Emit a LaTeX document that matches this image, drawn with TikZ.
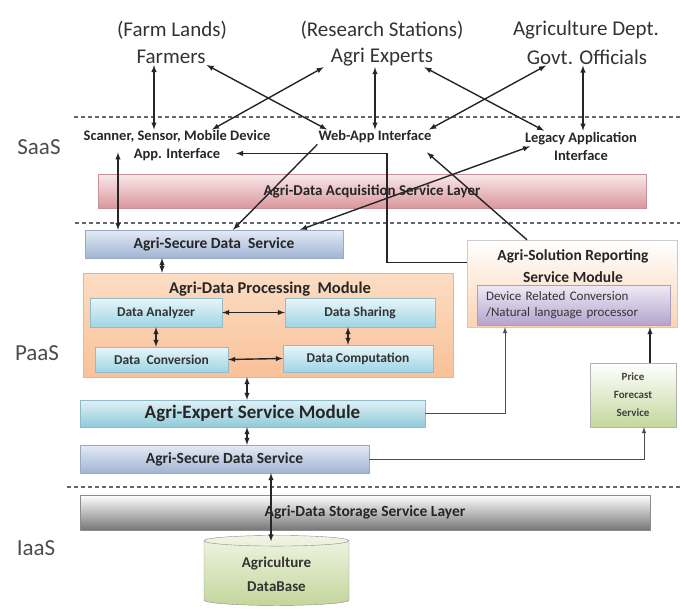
\documentclass[tikz,border=0pt]{standalone}
\usepackage{fontspec}
\setmainfont{Carlito}
\usetikzlibrary{shapes.geometric}
\definecolor{acqtop}{HTML}{F9E9E9}\definecolor{acqbot}{HTML}{D9979D}
\definecolor{sectop}{HTML}{E3EBF5}\definecolor{secbot}{HTML}{A1B4D2}
\definecolor{modtop}{HTML}{FCDDC4}\definecolor{modbot}{HTML}{F9C198}\definecolor{modedge}{HTML}{F5B07F}
\definecolor{celltop}{HTML}{E8F6FA}\definecolor{cellbot}{HTML}{9FD4E5}
\definecolor{exptop}{HTML}{E2F1F5}\definecolor{expbot}{HTML}{90CAD9}
\definecolor{solbot}{HTML}{FBD4B4}
\definecolor{devtop}{HTML}{EFEAF6}\definecolor{devbot}{HTML}{B5A4CC}
\definecolor{prbot}{HTML}{C4D79E}
\definecolor{storbot}{HTML}{777777}
\definecolor{dbtop}{HTML}{F0F5E4}\definecolor{dbbot}{HTML}{C3D69B}
\begin{document}
\begin{tikzpicture}[x=1pt,y=-1pt,>=latex,
  user/.style={inner sep=1pt,font=\fontsize{21}{25}\selectfont,text=black!80},
  tier/.style={inner sep=0pt,font=\fontsize{23}{27}\selectfont,text=black!70},
  iface/.style={inner sep=1pt,align=center,font=\fontsize{14.5}{18}\selectfont\bfseries,text=black!85},
  boxlbl/.style={inner sep=0pt,font=\fontsize{15.5}{18}\selectfont\bfseries,text=black!85},
  secbox/.style={boxlbl,draw=secbot!80!gray,top color=sectop,bottom color=secbot,minimum height=28pt},
  cell/.style={inner sep=0pt,draw=cellbot!70!gray,top color=celltop,bottom color=cellbot,
    font=\fontsize{13.5}{16}\selectfont\bfseries,text=black!80},
  conn/.style={line width=1.4pt,black!85},
  thinconn/.style={line width=1pt,black!70},
  sep/.style={line width=1.2pt,black!60,dash pattern=on 4pt off 3pt}]
\useasboundingbox (0,0) rectangle (680,610);
% users:
\node[user] (farmland) at (172,30) {(Farm Lands)};
\node[user] (farmers) at (171,57) {Farmers};
\node[user] (research) at (382,30) {(Research Stations)};
\node[user] (experts) at (382,57) {Agri Experts};
\node[user] (dept) at (586,30) {Agriculture Dept.};
\node[user] (govt) at (587,57) {Govt. Officials};
% tiers:
\node[tier] (saas) at (39,147) {SaaS};
\node[tier] (paas) at (37,353) {PaaS};
\node[tier] (iaas) at (36,548) {IaaS};
\draw[sep] (74,117) -- (680,117);
\draw[sep] (75,223) -- (680,223);
\draw[sep] (67,487) -- (680,487);
% SaaS:
\node[iface] (scanner) at (177,146) {Scanner, Sensor, Mobile Device\\App. Interface};
\node[iface] (webapp) at (375,137) {Web-App Interface};
\node[iface] (legacy) at (581,146) {Legacy Application\\Interface};
\node[boxlbl,font=\fontsize{15}{18}\selectfont\bfseries,draw=acqbot!80!gray,top color=acqtop,bottom color=acqbot,
  minimum width=548pt,minimum height=34pt] (acq) at (372,191) {Agri-Data Acquisition Service Layer};
% PaaS:
\node[secbox,minimum width=258pt] (secA) at (214,244) {Agri-Secure Data~~Service};
\node[draw=modedge,top color=modtop,bottom color=modbot,minimum width=370pt,minimum height=104pt] (module) at (268,325) {};
\node[boxlbl,font=\fontsize{16.5}{18}\selectfont\bfseries] (modname) at (270,289) {Agri-Data Processing~~Module};
\node[cell,minimum width=132pt,minimum height=29pt] (analyzer) at (156,312.5) {Data Analyzer};
\node[cell,minimum width=150pt,minimum height=29pt] (sharing) at (360,312.5) {Data Sharing};
\node[cell,minimum width=133pt,minimum height=25pt] (conversion) at (161.5,359.5) {Data~~Conversion};
\node[cell,minimum width=150pt,minimum height=27pt] (computation) at (358,358.5) {Data Computation};
\node[boxlbl,font=\fontsize{19}{22}\selectfont\bfseries,draw=expbot!80!gray,top color=exptop,bottom color=expbot,
  minimum width=345pt,minimum height=27pt] (expert) at (252.5,413.5) {Agri-Expert Service Module};
\node[secbox,minimum width=289pt] (secB) at (224.5,459) {Agri-Secure Data Service};
\node[draw=black!20,top color=white,bottom color=solbot,minimum width=210pt,minimum height=87pt] (solution) at (572,283.5) {};
\node[boxlbl,align=center,font=\fontsize{15.5}{22}\selectfont\bfseries] (solname) at (573,266) {Agri-Solution Reporting\\Service Module};
\node[draw=devbot!80!gray,top color=devtop,bottom color=devbot,text width=175pt,inner xsep=9pt,inner ysep=0pt,
  minimum height=40pt,align=left,font=\fontsize{13}{16}\selectfont,text=black!80] (device) at (573.5,305)
  {Device Related Conversion\\/Natural language processor};
\node[draw=black!30,top color=white,bottom color=prbot,minimum width=86pt,minimum height=64pt,align=center,
  font=\fontsize{11}{18}\selectfont\bfseries,text=black!75] (price) at (633,395) {Price\\Forecast\\Service};
% IaaS:
\node[boxlbl,draw=black!45,top color=white,bottom color=storbot,minimum width=570pt,minimum height=35pt] (storage)
  at (365,512.5) {Agri-Data Storage Service Layer};
\node[cylinder,shape border rotate=90,aspect=0.14,draw=black!45,top color=dbtop,bottom color=dbbot,
  minimum width=145pt,minimum height=70pt,align=center,font=\fontsize{15}{24}\selectfont\bfseries,text=black!80]
  (db) at (276.5,574) {Agriculture\\DataBase};
% connectors:
\draw[<->,conn] ([xshift=-17pt]farmers.south) -- ([xshift=-23pt]scanner.north);
\draw[<->,conn] (farmers.south east) -- ([xshift=-48pt]webapp.north);
\draw[<->,conn] ([xshift=-6pt]experts.south west) -- ([xshift=35pt]scanner.north);
\draw[<->,conn] ([xshift=-7pt]experts.south) -- (webapp.north);
\draw[<->,conn] ([xshift=-10pt]experts.south east) -- ([xshift=-37pt]legacy.north);
\draw[<->,conn] ([xshift=-41pt]govt.south) -- ([xshift=54pt]webapp.north);
\draw[<->,conn] ([xshift=-4pt]govt.south) -- ([xshift=2pt]legacy.north);
\draw[<->,conn] ([xshift=-59pt,yshift=10pt]scanner.south) -- ([xshift=-96pt]secA.north);
\coordinate (appin) at ([xshift=59pt,yshift=9pt]scanner.south);
\draw[->,conn] ([yshift=21pt]solution.west) -| ([xshift=151pt]appin) -- (appin);
\draw[->,conn] (webapp.south west) -- ([xshift=19pt]secA.north);
\draw[<->,conn] ([xshift=-51pt,yshift=15pt]legacy.south) -- ([xshift=86pt]secA.north);
\draw[->,conn] ([xshift=-45pt]solution.north) -- ([xshift=52pt,yshift=-8pt]webapp.south);
\draw[<->,conn] ([xshift=-52pt]secA.south) -- ([xshift=-106pt]module.north);
\draw[<->,conn] (analyzer.east) -- (sharing.west);
\draw[<->,conn] (analyzer.south) -- (analyzer.south |- conversion.north);
\draw[<->,conn] ([xshift=-12pt]sharing.south) -- ([xshift=-12pt]sharing.south |- computation.north);
\draw[<->,conn] (conversion.east) -- (computation.west);
\draw[<->,conn] ([xshift=-21pt]module.south) -- ([xshift=-21pt]module.south |- expert.north);
\draw[<->,conn] ([xshift=-5.5pt]expert.south) -- ([xshift=-5.5pt]expert.south |- secB.north);
\draw[->,thinconn] (expert.east) -| ([xshift=-67pt]solution.south);
\draw[->,thinconn] (secB.east) -| ([xshift=11pt]price.south);
\draw[->,conn] ([xshift=17pt]price.north) -- ([xshift=17pt]price.north |- solution.south);
\draw[<->,conn] ([xshift=46.5pt]secB.south) -- ([xshift=46.5pt,yshift=-6pt]secB.south |- db.north);
\end{tikzpicture}
\end{document}
